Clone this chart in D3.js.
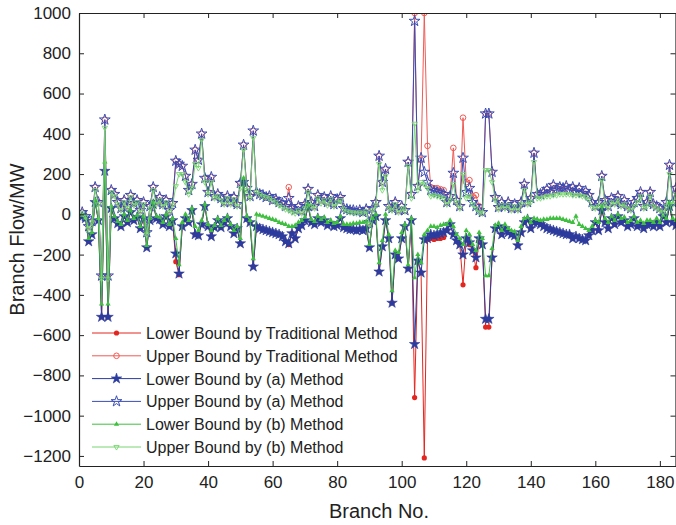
<!DOCTYPE html>
<html>
<head>
<meta charset="utf-8">
<script src="https://cdn.jsdelivr.net/npm/d3@7"></script>
<style>
body{margin:0;background:#fff}
svg{display:block;font-family:"Liberation Sans",Arial,Helvetica,sans-serif}
</style>
</head>
<body>
<div class="chart"></div>
<script>
// branch flow bounds (MW), branches 1..185
const branchNo = d3.range(1, 186)

const upperA = [10,-10,-60,-35,135,60,-305,470,-305,120, 100,60,30,70,40,95,55,70,20,60,
  -90,40,135,60,85,50,70,20,55,265, 250,240,190,120,150,320,270,400,180,110,
  185,90,100,80,60,90,60,85,50,155, 345,130,90,415,110,100,95,85,90,70,
  75,60,55,40,80,30,20,40,15,50, 125,60,40,95,70,85,60,90,50,75,
  85,30,25,20,20,15,20,10,25,-40, 30,60,290,160,225,40,30,60,20,40,
  20,260,100,960,140,280,210,160,120,115, 110,105,100,60,90,205,70,40,280,110,
  130,60,40,20,10,500,500,210,85,35, 60,40,60,30,50,30,60,150,60,80,
  305,100,100,110,125,110,145,120,135,130, 140,120,135,110,130,105,115,95,60,40,
  60,190,70,40,80,60,90,50,70,40, 30,60,80,110,40,60,110,50,40,30,
  20,60,245,60,130]
const lowerA = [-10,-20,-135,-100,60,-30,-510,215,-510,30, -20,-45,-60,-10,-40,10,-30,-15,-70,-20,
  -165,-30,50,-20,-25,-50,-10,-60,-30,-195, -295,-60,-20,-40,20,-100,-105,-50,40,-60,
  -110,-65,-30,-65,-40,-20,-60,-95,-70,-145, 160,-20,-40,-260,-60,-70,-75,-80,-85,-90,
  -95,-100,-110,-135,-145,-95,-120,-70,-55,-30, 40,-40,-50,-20,-40,-30,-55,-45,-60,-55,
  -20,-65,-70,-75,-75,-80,-75,-80,-70,-165, -30,-10,-285,-160,-30,-120,-440,-200,-220,-120,
  -60,-270,-30,-645,-230,-290,-125,-120,-100,-105, -100,-95,-90,-80,-50,-100,-130,-150,-200,-120,
  -140,-180,-215,-120,-150,-520,-520,-215,-70,-60, -100,-70,-90,-100,-105,-155,-90,-40,-25,-70,
  -40,-40,-50,-60,-70,-75,-80,-85,-90,-95, -100,-100,-120,-110,-120,-125,-130,-105,-80,-40,
  -80,20,-40,-70,-20,-50,-10,-40,-30,-60, -50,-20,-60,-50,-70,-50,-50,-60,-40,-60,
  -10,-40,40,-40,-55]
const upperTrad = [10,-10,-60,-35,135,60,-305,470,-305,120, 100,60,30,70,40,95,55,70,20,60,
  -90,40,135,60,85,50,70,20,55,265, 250,240,190,120,150,320,270,400,180,110,
  185,90,100,80,60,90,60,85,50,155, 345,130,90,415,110,100,95,85,90,70,
  75,60,55,40,135,30,20,40,15,50, 125,60,40,95,70,85,60,90,50,75,
  85,30,25,20,20,15,20,10,25,-40, 30,60,290,160,225,40,30,60,20,40,
  20,260,100,1000,140,270,1000,340,135,130, 130,125,120,60,90,330,70,40,480,160,
  170,90,95,40,10,500,500,210,85,35, 60,40,60,30,50,30,60,150,60,80,
  305,100,100,110,125,110,145,120,135,130, 140,120,135,110,130,105,115,95,60,40,
  60,190,70,40,80,60,90,50,70,40, 30,60,80,110,40,60,110,50,40,30,
  20,60,245,60,130]
const lowerTrad = [-10,-20,-135,-100,60,-30,-510,215,-510,30, -20,-45,-60,-10,-40,10,-30,-15,-70,-20,
  -165,-30,50,-20,-25,-50,-10,-60,-30,-235, -300,-60,-20,-40,20,-100,-105,-50,40,-60,
  -110,-65,-30,-65,-40,-20,-60,-95,-70,-145, 160,-20,-40,-260,-60,-70,-75,-80,-85,-90,
  -95,-100,-110,-135,-150,-95,-120,-70,-55,-30, 40,-40,-50,-20,-40,-30,-55,-45,-60,-55,
  -20,-65,-70,-75,-75,-80,-75,-80,-70,-165, -30,-10,-285,-160,-30,-120,-440,-200,-220,-120,
  -60,-270,-30,-910,-235,-290,-1210,-125,-120,-125, -120,-120,-115,-80,-50,-100,-130,-150,-350,-120,
  -150,-180,-265,-130,-150,-560,-560,-215,-70,-60, -100,-70,-90,-100,-105,-155,-90,-40,-25,-70,
  -40,-40,-50,-60,-70,-75,-80,-85,-90,-95, -100,-100,-120,-110,-120,-125,-130,-105,-80,-40,
  -80,20,-40,-70,-20,-50,-10,-40,-30,-60, -50,-20,-60,-50,-70,-50,-50,-60,-40,-60,
  -10,-40,40,-40,-55]
const upperB = [5,-12,-70,-40,120,50,-320,430,-320,110, 90,50,20,60,30,85,45,60,10,50,
  -100,30,120,50,70,40,60,10,45,140, 200,200,160,100,130,250,230,370,160,100,
  160,80,90,70,50,80,50,75,40,130, 320,120,80,380,110,100,90,85,80,70,
  60,45,35,25,20,10,5,20,5,30, 110,40,30,80,55,70,45,75,40,60,
  70,25,15,10,10,5,10,5,15,-50, 20,45,250,120,190,30,20,50,10,30,
  15,240,80,450,120,160,150,130,90,95, 90,85,80,50,70,150,60,30,200,80,
  90,50,30,10,5,220,220,160,70,25, 45,30,45,20,40,20,50,120,50,60,
  260,80,80,85,90,90,95,95,100,100, 100,100,95,95,95,90,85,75,35,30,
  40,170,50,30,60,50,70,40,50,30, 20,40,60,90,30,40,90,40,30,20,
  10,40,200,50,100]
const lowerB = [-5,-18,-120,-90,70,-20,-445,260,-445,40, -10,-35,-50,0,-30,20,-20,-5,-60,-10,
  -155,-20,60,-10,-15,-40,0,-50,-20,-120, -250,-40,0,-30,30,-60,-80,-30,50,-50,
  -80,-55,-20,-55,-30,-10,-50,-80,-60,-120, 180,-10,-30,-220,0,-5,-10,-15,-20,-25,
  -30,-40,-45,-50,-60,-60,-55,-40,-30,-15, 50,-25,-35,-10,-25,-15,-40,-30,-45,-40,
  -10,-50,-50,-50,-45,-45,-40,-40,-35,-150, -20,0,-240,-130,0,-100,-380,-180,-190,-90,
  -50,-250,-20,-315,-200,-240,-100,-80,-60,-60, -65,-55,-50,-50,-30,-60,-100,-120,-150,-80,
  -100,-150,-180,-90,-120,-305,-305,-170,-55,-45, -80,-50,-70,-80,-85,-130,-60,-20,-15,-40,
  -20,-25,-30,-25,-25,-20,-20,-20,-20,-25, -30,-35,-40,-10,-50,-60,-70,-80,-60,-30,
  -40,40,-20,-40,-10,-30,0,-20,-15,-40, -30,-10,-40,-30,-45,-30,-30,-40,-20,-40,
  -5,-20,60,-20,-30]

const yTicks = d3.range(-1200, 1001, 200)
const xTicks = d3.range(0, 181, 20)

const series = [
  {name:'Lower Bound by Traditional Method', values:lowerTrad, color:'#e3261f', marker:'dot'},
  {name:'Upper Bound by Traditional Method', values:upperTrad, color:'#ef5b55', marker:'circle'},
  {name:'Lower Bound by (a) Method', values:lowerA, color:'#2b3c9e', marker:'starFilled'},
  {name:'Upper Bound by (a) Method', values:upperA, color:'#3a4db5', marker:'starOpen'},
  {name:'Lower Bound by (b) Method', values:lowerB, color:'#3fbf3f', marker:'triUp'},
  {name:'Upper Bound by (b) Method', values:upperB, color:'#78d672', marker:'triDown'}
]

const W = 676, H = 525
const margin = {top: 13, right: 0, bottom: 59, left: 79}
const width = W - margin.left - margin.right,
  height = H - margin.top - margin.bottom

const svg = d3.select('.chart').append('svg')
  .attr('width', W)
  .attr('height', H)

const g = svg.append('g')
  .attr('transform', 'translate(' + margin.left + ',' + margin.top + ')')

let xScale = d3.scaleLinear().domain([0, 185]).range([0, width])
let yScale = d3.scaleLinear().domain([-1250, 1000]).range([height, 0])

g.append('clipPath').attr('id', 'clip')
  .append('rect').attr('x', 0).attr('y', 0).attr('width', width).attr('height', height)

function drawMarker(sel, type, color){
  if (type == 'dot'){
    sel.append('circle').attr('r', 2.6).attr('fill', color)
  } else if (type == 'circle'){
    sel.append('circle').attr('r', 2.8).attr('fill', 'none').attr('stroke', color).attr('stroke-width', 1)
  } else if (type == 'starFilled'){
    sel.append('path').attr('d', d3.symbol(d3.symbolStar, 34)).attr('fill', color).attr('stroke', color).attr('stroke-width', 0.6)
  } else if (type == 'starOpen'){
    sel.append('path').attr('d', d3.symbol(d3.symbolStar, 36)).attr('fill', 'none').attr('stroke', color).attr('stroke-width', 1)
  } else if (type == 'triUp'){
    sel.append('path').attr('d', d3.symbol(d3.symbolTriangle, 12)).attr('fill', color)
  } else {
    sel.append('path').attr('d', d3.symbol(d3.symbolTriangle, 12)).attr('transform', 'rotate(180)')
      .attr('fill', 'none').attr('stroke', color).attr('stroke-width', 0.9)
  }
}

const plot = g.append('g').attr('clip-path', 'url(#clip)')

const line = d3.line()
  .x((d, i) => xScale(branchNo[i]))
  .y(d => yScale(d))

series.forEach(function(s){
  plot.append('path')
    .attr('d', line(s.values))
    .attr('fill', 'none')
    .attr('stroke', s.color)
    .attr('stroke-width', 1)
  plot.selectAll('.m-' + s.marker)
    .data(s.values)
    .enter()
    .append('g')
    .attr('class', 'm-' + s.marker)
    .attr('transform', (d, i) => 'translate(' + xScale(branchNo[i]) + ',' + yScale(d) + ')')
    .each(function(){ drawMarker(d3.select(this), s.marker, s.color) })
})

// axes, ticks inward on all four sides
const xAxis = d3.axisBottom(xScale).tickValues(xTicks).tickSizeInner(-5).tickSizeOuter(0).tickPadding(10)
const yAxis = d3.axisLeft(yScale).tickValues(yTicks).tickSizeInner(-5).tickSizeOuter(0).tickPadding(8)
  .tickFormat(d3.format('d'))
const xAxisTop = d3.axisTop(xScale).tickValues(xTicks).tickSizeInner(-5).tickSizeOuter(0).tickFormat('')
const yAxisRight = d3.axisRight(yScale).tickValues(yTicks).tickSizeInner(-5).tickSizeOuter(0).tickFormat('')

g.append('g').attr('class', 'x-axis').attr('transform', `translate(0,${height})`).call(xAxis)
g.append('g').attr('class', 'x-axis-top').call(xAxisTop)
g.append('g').attr('class', 'y-axis').call(yAxis)
g.append('g').attr('class', 'y-axis-right').attr('transform', `translate(${width - 0.5},0)`).call(yAxisRight)

g.selectAll('.domain').attr('stroke', '#222').attr('stroke-width', 1.2)
g.selectAll('.tick line').attr('stroke', '#222')
g.selectAll('.tick text').attr('fill', '#222').style('font-size', '17px')

g.append('text')
  .attr('x', 300)
  .attr('y', height + 52)
  .attr('text-anchor', 'middle')
  .attr('fill', '#222')
  .style('font-size', '20px')
  .text('Branch No.')

g.append('text')
  .attr('transform', `translate(-55,${height / 2}) rotate(-90)`)
  .attr('text-anchor', 'middle')
  .attr('fill', '#222')
  .style('font-size', '20px')
  .text('Branch Flow/MW')

// legend
const legend = g.append('g').attr('transform', 'translate(13,320)')
series.forEach(function(s, i){
  const row = legend.append('g').attr('transform', 'translate(0,' + (i * 22.8) + ')')
  row.append('line').attr('x1', 0).attr('x2', 49).attr('y1', 0).attr('y2', 0)
    .attr('stroke', s.color).attr('stroke-width', 1)
  const m = row.append('g').attr('transform', 'translate(24.5,0)')
  drawMarker(m, s.marker, s.color)
  row.append('text')
    .attr('x', 54)
    .attr('y', 6)
    .attr('fill', '#222')
    .style('font-size', '16px')
    .text(s.name)
})
</script>
</body>
</html>
